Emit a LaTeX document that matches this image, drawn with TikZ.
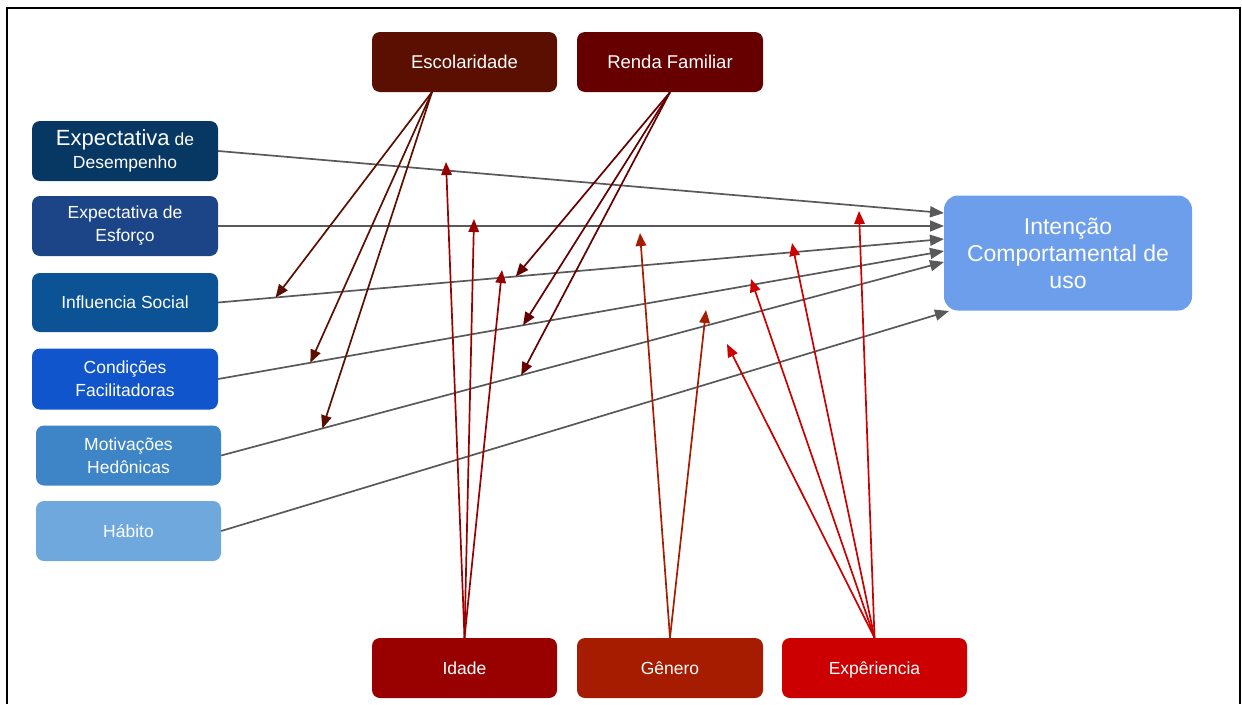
\documentclass[tikz,border=0pt]{standalone}
\usepackage{fontspec}
\setmainfont{Liberation Sans}
\usetikzlibrary{arrows.meta,calc}
\definecolor{cEsc}{HTML}{5B0F00}
\definecolor{cRen}{HTML}{660000}
\definecolor{cExD}{HTML}{073763}
\definecolor{cEsf}{HTML}{1C4587}
\definecolor{cInf}{HTML}{0B5394}
\definecolor{cCon}{HTML}{1155CC}
\definecolor{cMot}{HTML}{3D85C6}
\definecolor{cHab}{HTML}{6FA8DC}
\definecolor{cInt}{HTML}{6D9EEB}
\definecolor{cIda}{HTML}{990000}
\definecolor{cGen}{HTML}{A61C00}
\definecolor{cExp}{HTML}{CC0000}
\definecolor{cGray}{HTML}{595959}
\begin{document}
\begin{tikzpicture}[x=1pt,y=-1pt,
  box/.style={rounded corners=8pt, text=white, align=center, inner sep=0pt,
    minimum width=185pt, minimum height=60pt, font=\fontsize{17.5}{23}\selectfont},
  single/.style={text height=16.5pt, text depth=4pt},
  grayarrow/.style={draw=cGray, line width=1.7pt, -{Triangle[length=14pt,width=11pt]}},
  modarrow/.style={line width=1.7pt, -{Triangle[length=13pt,width=10.5pt]}}]
\useasboundingbox (0,0) rectangle (1242,704);
\draw[line width=1.6pt] (7,704) -- (7,8) -- (1240,8) -- (1240,704);

% top moderators
\node[box, single, fill=cEsc, font=\fontsize{18.5}{23}\selectfont] (esc) at (464.5,62) {Escolaridade};
\node[box, single, fill=cRen, minimum width=186pt, font=\fontsize{18.5}{23}\selectfont] (ren) at (670,62) {Renda Familiar};
% left constructs
\node[box, fill=cExD, minimum width=186pt] (exd) at (125,151) {{\fontsize{22}{24}\selectfont Expectativa} de\\Desempenho};
\node[box, fill=cEsf, minimum width=186pt] (esf) at (125,226) {Expectativa de\\Esforço};
\node[box, single, fill=cInf, minimum width=186pt, minimum height=59pt] (inf) at (125,302.5) {Influencia Social};
\node[box, fill=cCon, minimum width=186pt, minimum height=61pt] (con) at (125,379) {Condições\\Facilitadoras};
\node[box, fill=cMot] (mot) at (128.5,455.5) {Motivações\\Hedônicas};
\node[box, single, fill=cHab] (hab) at (128.5,531) {Hábito};
% target
\node[box, fill=cInt, minimum width=248pt, minimum height=115pt, rounded corners=14pt,
  font=\fontsize{23}{27}\selectfont] (int) at (1068,253) {Intenção\\Comportamental de\\uso};
% bottom moderators
\node[box, single, fill=cIda] (ida) at (464.5,668) {Idade};
\node[box, single, fill=cGen, minimum width=186pt] (gen) at (670,668) {Gênero};
\node[box, single, fill=cExp] (exp) at (874.5,668) {Expêriencia};

% end points on target
\coordinate (t1) at (944,213);
\coordinate (t2) at (944,226);
\coordinate (t3) at (944,239);
\coordinate (t4) at (944,251);
\coordinate (t5) at (944,262);
\coordinate (t6) at (949,311);

% gray paths
\draw[grayarrow] (exd.east) -- (t1);
\draw[grayarrow] (esf.east) -- (t2);
\draw[grayarrow] (inf.east) -- coordinate[pos=0.079] (infA) coordinate[pos=0.41] (infB) (t3);
\draw[grayarrow] (con.east) -- coordinate[pos=0.127] (conA) coordinate[pos=0.42] (conB) (t4);
\draw[grayarrow] (mot.east) -- coordinate[pos=0.14] (motA) coordinate[pos=0.415] (motB) (t5);
\draw[grayarrow] (hab.east) -- (t6);

% Escolaridade
\coordinate (escO) at (432,92);
\draw[modarrow, cEsc] (escO) -- (infA);
\draw[modarrow, cEsc] (escO) -- (conA);
\draw[modarrow, cEsc] (escO) -- (motA);
% Renda Familiar
\draw[modarrow, cRen] (ren.south) -- (infB);
\draw[modarrow, cRen] (ren.south) -- (conB);
\draw[modarrow, cRen] (ren.south) -- (motB);

% Idade
\coordinate (i1) at (446,162);
\coordinate (i2) at (474,219);
\coordinate (i3) at (502,270);
\draw[modarrow, cIda] (ida.north) -- (i1);
\draw[modarrow, cIda] (ida.north) -- (i2);
\draw[modarrow, cIda] (ida.north) -- (i3);
% Genero
\coordinate (g1) at (640,233);
\coordinate (g2) at (706,310);
\draw[modarrow, cGen] (gen.north) -- (g1);
\draw[modarrow, cGen] (gen.north) -- (g2);
% Experiencia
\coordinate (e1) at (727,344);
\coordinate (e2) at (751,279);
\coordinate (e3) at (792,243);
\coordinate (e4) at (859,211);
\draw[modarrow, cExp] (exp.north) -- (e1);
\draw[modarrow, cExp] (exp.north) -- (e2);
\draw[modarrow, cExp] (exp.north) -- (e3);
\draw[modarrow, cExp] (exp.north) -- (e4);
\end{tikzpicture}
\end{document}
